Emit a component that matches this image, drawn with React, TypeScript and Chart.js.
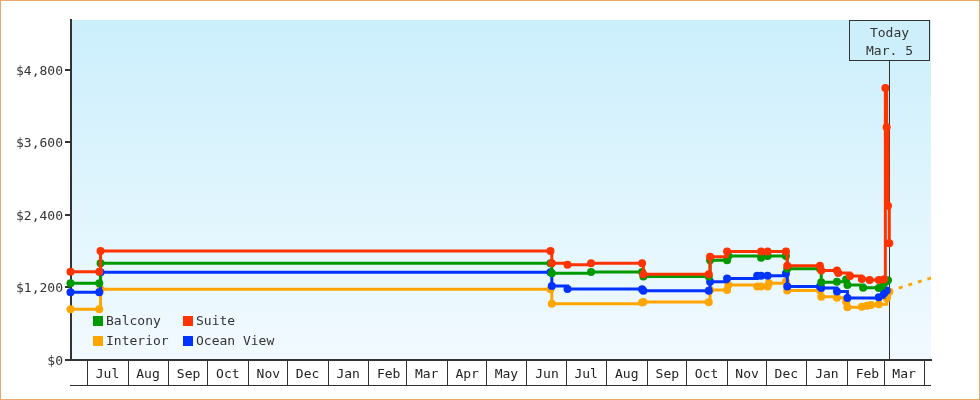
import React, { useEffect, useRef } from "react";
import { Chart, registerables } from "chart.js";

Chart.register(...registerables);

const DAY = 86400000;
const toDay = (s: string) =>
  Date.UTC(+s.slice(0, 4), +s.slice(5, 7) - 1, +s.slice(8, 10)) / DAY;

const FONT = "'DejaVu Sans Mono', monospace";

// ---- data ----
const suiteDates = ["2023-06-18","2023-07-10","2023-07-11","2024-06-19","2024-06-20","2024-07-02","2024-07-20","2024-08-28","2024-08-29","2024-10-18","2024-10-19","2024-11-01","2024-11-27","2024-12-02","2024-12-16","2024-12-17","2025-01-11","2025-01-12","2025-01-24","2025-01-25","2025-02-03","2025-02-12","2025-02-18","2025-02-25","2025-03-01","2025-03-02","2025-03-03","2025-03-04","2025-03-05"];
const suitePrices = [1460,1460,1805,1805,1600,1575,1600,1600,1420,1420,1710,1795,1795,1795,1795,1560,1560,1480,1480,1440,1390,1340,1325,1325,1335,4500,3850,2550,1930];

const balconyDates = ["2023-06-18","2023-07-10","2023-07-11","2024-06-19","2024-06-20","2024-07-20","2024-08-28","2024-08-29","2024-10-18","2024-10-19","2024-11-01","2024-11-02","2024-11-27","2024-12-02","2024-12-16","2024-12-17","2025-01-11","2025-01-12","2025-01-24","2025-01-31","2025-02-01","2025-02-13","2025-02-25","2025-03-01","2025-03-04"];
const balconyPrices = [1270,1270,1600,1600,1435,1455,1455,1380,1380,1650,1650,1720,1690,1720,1720,1510,1510,1285,1295,1330,1240,1195,1190,1270,1320];

const oceanDates = ["2023-06-18","2023-07-10","2023-07-11","2024-06-19","2024-06-20","2024-07-02","2024-08-28","2024-08-29","2024-10-18","2024-10-19","2024-11-01","2024-11-24","2024-11-27","2024-12-02","2024-12-16","2024-12-17","2025-01-11","2025-01-12","2025-01-24","2025-02-01","2025-02-25","2025-03-01","2025-03-03"];
const oceanPrices = [1120,1120,1450,1450,1225,1175,1170,1145,1145,1295,1350,1395,1395,1395,1430,1215,1215,1190,1135,1025,1040,1105,1150];

const interiorDates = ["2023-06-18","2023-07-10","2023-07-11","2024-06-19","2024-06-20","2024-08-28","2024-08-29","2024-10-18","2024-10-19","2024-11-01","2024-11-02","2024-11-24","2024-11-27","2024-12-02","2024-12-03","2024-12-16","2024-12-17","2025-01-11","2025-01-12","2025-01-24","2025-01-31","2025-02-01","2025-02-12","2025-02-16","2025-02-19","2025-02-25","2025-03-03","2025-03-05"];
const interiorPrices = [840,840,1170,1170,930,950,960,955,1160,1160,1240,1215,1215,1215,1270,1295,1150,1150,1048,1030,965,872,882,899,910,921,1020,1131];

const projectionDates = ["2025-03-05","2025-04-06"];
const projectionPrices = [1140, 1357];

const tickDates = ["2023-07-01","2023-08-01","2023-09-01","2023-10-01","2023-11-01","2023-12-01","2024-01-01","2024-02-01","2024-03-01","2024-04-01","2024-05-01","2024-06-01","2024-07-01","2024-08-01","2024-09-01","2024-10-01","2024-11-01","2024-12-01","2025-01-01","2025-02-01","2025-03-01","2025-04-01"];
const tickLabels = ["Jul","Aug","Sep","Oct","Nov","Dec","Jan","Feb","Mar","Apr","May","Jun","Jul","Aug","Sep","Oct","Nov","Dec","Jan","Feb","Mar",""];

const yTicks = [0, 1200, 2400, 3600, 4800];
const yMax = 5625;
const xMin = toDay("2023-06-18") + 0.4;
const xMax = toDay("2025-04-06") - 0.1;
const todayDate = "2025-03-05";
const todayLabel = ["Today", "Mar. 5"];

const legendNames = ["Balcony", "Suite", "Interior", "Ocean View"];
const colors: Record<string, string> = {
  Suite: "#ff3300",
  Balcony: "#009900",
  "Ocean View": "#0033ff",
  Interior: "#ffa500",
};

const mk = (label: string, dates: string[], prices: number[]) => {
  const c = colors[label];
  return {
    label,
    data: dates.map((t, i) => ({ x: toDay(t), y: prices[i] })),
    borderColor: c,
    backgroundColor: c,
    pointBackgroundColor: c,
    pointBorderColor: c,
    borderWidth: 3,
    stepped: true as const,
    pointRadius: 4,
    pointHoverRadius: 4,
    pointBorderWidth: 0,
    fill: false,
    clip: false as const,
  };
};

export default function App() {
  const ref = useRef<HTMLCanvasElement | null>(null);

  useEffect(() => {
    const canvas = ref.current;
    if (!canvas) return;

    const bgPlugin = {
      id: "bg",
      beforeDraw(chart: any) {
        const { ctx, chartArea: a } = chart;
        ctx.save();
        ctx.fillStyle = "#ffffff";
        ctx.fillRect(0, 0, chart.width, chart.height);
        const g = ctx.createLinearGradient(0, a.top, 0, a.bottom);
        g.addColorStop(0, "#cbeffc");
        g.addColorStop(1, "#f2faff");
        ctx.fillStyle = g;
        ctx.fillRect(a.left, a.top, a.right - a.left, a.bottom - a.top);
        ctx.restore();
      },
    };

    const todayLinePlugin = {
      id: "todayLine",
      beforeDatasetsDraw(chart: any) {
        const { ctx, chartArea: a } = chart;
        const x = Math.round(chart.scales.x.getPixelForValue(toDay(todayDate))) + 0.5;
        ctx.save();
        ctx.strokeStyle = "#333";
        ctx.lineWidth = 1;
        ctx.beginPath();
        ctx.moveTo(x, a.top + 40);
        ctx.lineTo(x, a.bottom);
        ctx.stroke();
        ctx.restore();
      },
    };

    const overlayPlugin = {
      id: "overlay",
      afterDraw(chart: any) {
        const { ctx, chartArea: a } = chart;
        ctx.save();
        // bottom line of month band
        ctx.strokeStyle = "#333";
        ctx.lineWidth = 1;
        ctx.beginPath();
        ctx.moveTo(a.left - 1, a.bottom + 25.5);
        ctx.lineTo(a.right, a.bottom + 25.5);
        ctx.stroke();

        // today box
        const x = Math.round(chart.scales.x.getPixelForValue(toDay(todayDate))) + 0.5;
        const w = 80;
        const h = 40;
        ctx.fillStyle = "#cdeffc";
        ctx.fillRect(x - w / 2, a.top + 0.5, w, h);
        ctx.strokeRect(x - w / 2, a.top + 0.5, w, h);
        ctx.fillStyle = "#333";
        ctx.font = `13px ${FONT}`;
        ctx.textAlign = "center";
        ctx.textBaseline = "middle";
        ctx.fillText(todayLabel[0], x, a.top + 13.5);
        ctx.fillText(todayLabel[1], x, a.top + 31.5);

        // legend
        ctx.textAlign = "left";
        legendNames.forEach((name, i) => {
          const col = i % 2;
          const row = Math.floor(i / 2);
          const bx = a.left + 22 + col * 90;
          const by = a.bottom - 44 + row * 20;
          ctx.fillStyle = colors[name];
          ctx.fillRect(bx, by, 10, 10);
          ctx.fillStyle = "#333";
          ctx.fillText(name, bx + 13, by + 5.5);
        });

        // outer border
        ctx.strokeStyle = "#eaa866";
        ctx.lineWidth = 1;
        ctx.strokeRect(0.5, 0.5, chart.width - 1, chart.height - 1);
        ctx.restore();
      },
    };

    const projection = {
      label: "",
      data: projectionDates.map((t, i) => ({ x: toDay(t), y: projectionPrices[i] })),
      borderColor: colors.Interior,
      backgroundColor: colors.Interior,
      borderWidth: 3,
      borderDash: [4, 6],
      pointRadius: 0,
      fill: false,
    };

    const chart = new Chart(canvas, {
      type: "line",
      data: {
        datasets: [
          mk("Suite", suiteDates, suitePrices),
          mk("Balcony", balconyDates, balconyPrices),
          mk("Ocean View", oceanDates, oceanPrices),
          mk("Interior", interiorDates, interiorPrices),
          projection as any,
        ],
      },
      options: {
        animation: false,
        responsive: false,
        maintainAspectRatio: false,
        events: [],
        layout: { padding: { left: 0, top: 20, right: 49, bottom: 15 } },
        plugins: {
          legend: { display: false },
          tooltip: { enabled: false },
        },
        scales: {
          x: {
            type: "linear",
            min: xMin,
            max: xMax,
            border: { display: true, color: "#333", width: 2 },
            grid: {
              display: true,
              drawOnChartArea: false,
              drawTicks: true,
              tickLength: 25,
              color: "#333",
              lineWidth: 1,
            },
            ticks: {
              autoSkip: false,
              maxRotation: 0,
              minRotation: 0,
              labelOffset: 20,
              padding: -18,
              color: "#222",
              font: { family: FONT, size: 13 },
              callback: (_v: any, i: number) => tickLabels[i],
            },
            afterBuildTicks: (s: any) => {
              s.ticks = tickDates.map((t) => ({ value: toDay(t) }));
            },
            afterFit: (s: any) => {
              s.height = 25;
            },
          },
          y: {
            type: "linear",
            min: 0,
            max: yMax,
            border: { display: true, color: "#333", width: 2 },
            grid: {
              display: true,
              drawOnChartArea: false,
              drawTicks: true,
              tickLength: 6,
              color: "#333",
              lineWidth: 2,
            },
            ticks: {
              padding: 2,
              labelOffset: 1.5,
              color: "#333",
              font: { family: FONT, size: 13 },
              callback: (v: any) => "$" + Number(v).toLocaleString("en-US"),
            },
            afterBuildTicks: (s: any) => {
              s.ticks = yTicks.map((v) => ({ value: v }));
            },
            afterFit: (s: any) => {
              s.width = 71;
            },
          },
        },
      } as any,
      plugins: [bgPlugin, todayLinePlugin, overlayPlugin],
    });

    return () => chart.destroy();
  }, []);

  return (
    <div style={{ position: "absolute", left: 0, top: 0, width: 980, height: 400 }}>
      <canvas ref={ref} width={980} height={400} style={{ display: "block" }} />
    </div>
  );
}
